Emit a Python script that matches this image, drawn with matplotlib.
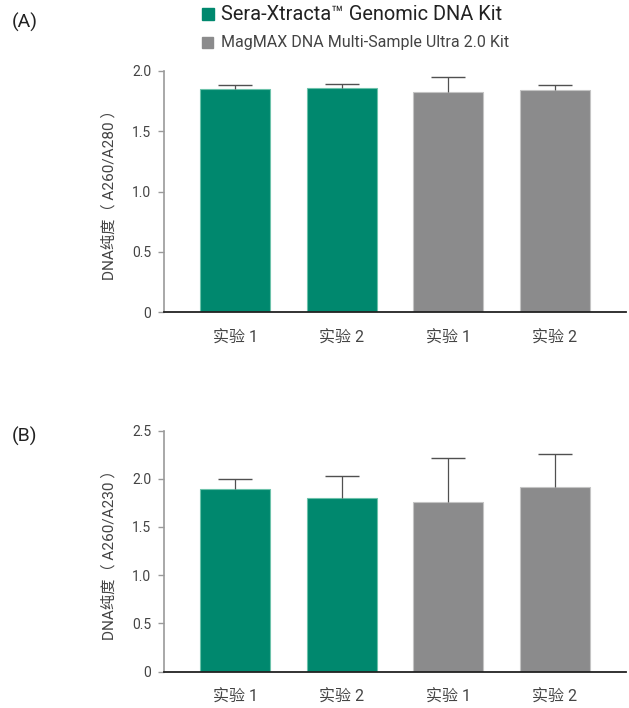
import matplotlib
matplotlib.use("Agg")
import matplotlib.pyplot as plt
from matplotlib.patches import Rectangle
import numpy as np

plt.rcParams['font.family'] = ['Roboto', 'Noto Sans CJK SC', 'DejaVu Sans']

# Daten
kits = ['Sera-Xtracta™ Genomic DNA Kit', 'MagMAX DNA Multi-Sample Ultra 2.0 Kit']
kit_farben = ['#00886E', '#8B8B8C']
kit_kanten = ['#6CC2AA', '#C4C4C4']
kategorien = ['实验 1', '实验 2', '实验 1', '实验 2']
kit_index = [0, 0, 1, 1]

a_werte = [1.85, 1.86, 1.83, 1.845]
a_fehler = [0.03, 0.035, 0.12, 0.035]
a_ticks = [0, 0.5, 1.0, 1.5, 2.0]
a_ticklabels = ['0', '0.5', '1.0', '1.5', '2.0']

b_werte = [1.89, 1.80, 1.76, 1.91]
b_fehler = [0.11, 0.23, 0.45, 0.35]
b_ticks = [0, 0.5, 1.0, 1.5, 2.0, 2.5]
b_ticklabels = ['0', '0.5', '1.0', '1.5', '2.0', '2.5']

panels = [
    ('(A)', a_werte, a_fehler, a_ticks, a_ticklabels, 'DNA纯度（ A260/A280 ）'),
    ('(B)', b_werte, b_fehler, b_ticks, b_ticklabels, 'DNA纯度（ A260/A230 ）'),
]

fig = plt.figure(figsize=(6.29, 7.08), dpi=100)
W, H = 629, 708

achsen_pos = [(164, 71, 626, 312.3), (164, 430.5, 626, 671.5)]
buchstaben_y = [22, 436]
x = np.arange(len(kategorien))

for (buchstabe, werte, fehler, ticks, ticklabels, ylabel), (l, t, r, b), by in zip(panels, achsen_pos, buchstaben_y):
    ax = fig.add_axes([l / W, 1 - b / H, (r - l) / W, (b - t) / H])
    farben = [kit_farben[i] for i in kit_index]
    kanten = [kit_kanten[i] for i in kit_index]
    ax.bar(x, werte, width=0.656, color=farben, edgecolor=kanten, linewidth=0.8, zorder=2)
    _, caps, _ = ax.errorbar(x, werte, yerr=[np.zeros(len(werte)), fehler], fmt='none',
                             ecolor='#505050', elinewidth=0.9, capsize=12.5, capthick=1.0, zorder=3)
    caps[0].set_visible(False)
    caps[1].set_color('#a8a8a8')

    ax.set_xlim(-0.666, 3.666)
    ax.set_ylim(0, ticks[-1])
    ax.set_yticks(ticks)
    ax.set_yticklabels(ticklabels)
    ax.set_xticks(x)
    ax.set_xticklabels(kategorien)

    for s in ['top', 'right']:
        ax.spines[s].set_visible(False)
    ax.spines['left'].set_color('#9a9a9a')
    ax.spines['left'].set_linewidth(1.2)
    ax.spines['bottom'].set_color('#222222')
    ax.spines['bottom'].set_linewidth(1.3)
    ax.spines['bottom'].set_zorder(4)

    ax.tick_params(axis='y', length=4.3, width=1.0, color='#9a9a9a', pad=5,
                   labelsize=10, labelcolor='#444444')
    ax.tick_params(axis='x', length=0, pad=13, labelsize=11.5, labelcolor='#444444')

    ax.set_ylabel(ylabel, fontsize=11, color='#444444')
    ax.yaxis.set_label_coords(-0.102, 0.5)

    fig.text(12 / W, 1 - by / H, buchstabe, fontsize=14, color='#222222', va='center', ha='left')

# Legende
legende_y = [14, 42]
legende_groesse = [14.4, 11.5]
legende_quadrat = [12, 11]
for name, farbe, yy, fs, q in zip(kits, kit_farben, legende_y, legende_groesse, legende_quadrat):
    fig.patches.append(Rectangle((201.5 / W, 1 - (yy + q / 2) / H), q / W, q / H,
                                 transform=fig.transFigure, color=farbe))
    fig.text(221 / W, 1 - yy / H, name, fontsize=fs, color='#222222' if fs > 12 else '#444444',
             va='center', ha='left')

fig.savefig('out.png', dpi=100)
